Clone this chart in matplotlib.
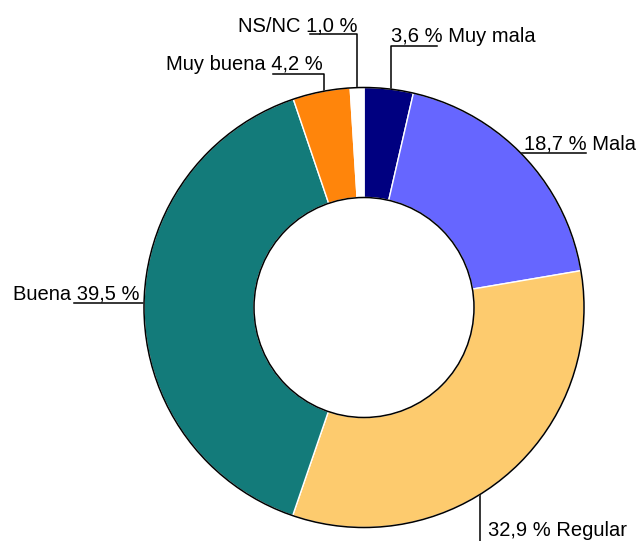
import matplotlib
matplotlib.use("Agg")
import matplotlib.pyplot as plt
from matplotlib.patches import Circle
import numpy as np

plt.rcParams['font.family'] = ['Liberation Sans', 'DejaVu Sans']

categories = ["Muy mala", "Mala", "Regular", "Buena", "Muy buena", "NS/NC"]
values = [3.6, 18.7, 32.9, 39.5, 4.2, 1.0]
value_labels = ["3,6 %", "18,7 %", "32,9 %", "39,5 %", "4,2 %", "1,0 %"]
colors = ["#000080", "#6666FF", "#FDCB6E", "#137B7A", "#FF850B", "#FFFFFF"]

W, H = 640, 541
fig = plt.figure(figsize=(W / 100, H / 100), dpi=100)
ax = fig.add_axes([0, 0, 1, 1])
ax.set_xlim(0, W)
ax.set_ylim(H, 0)
ax.set_aspect('equal')
ax.axis('off')

cx, cy = 364, 307.5
R, r = 220, 110

# pie drawn in a y-up helper axes over the same area
ax2 = fig.add_axes([0, 0, 1, 1])
ax2.set_xlim(0, W)
ax2.set_ylim(0, H)
ax2.set_aspect('equal')
ax2.axis('off')
ax2.pie(values, colors=colors, startangle=90, counterclock=False,
        center=(cx, H - cy), radius=R,
        wedgeprops=dict(width=R - r, edgecolor='white', linewidth=1.0))
ax2.set_xlim(0, W)
ax2.set_ylim(0, H)
ax2.add_patch(Circle((cx, H - cy), R, fill=False, edgecolor='black', lw=1.1, zorder=5))
ax2.add_patch(Circle((cx, H - cy), r, fill=False, edgecolor='black', lw=1.1, zorder=5))

fs = 14.5
lw = 1.1

def ring_y_top(x):
    return cy - np.sqrt(R**2 - (x - cx)**2)

def ring_y_bot(x):
    return cy + np.sqrt(R**2 - (x - cx)**2)

# NS/NC
x0 = 357
ax.plot([310, x0, x0], [34, 34, ring_y_top(x0)], color='black', lw=lw)
ax.text(x0 + 1, 31, f"{categories[5]} {value_labels[5]}", ha='right', va='baseline', fontsize=fs)
# Muy mala
x0 = 391
ax.plot([437, x0, x0], [46, 46, ring_y_top(x0)], color='black', lw=lw)
ax.text(x0, 42, f"{value_labels[0]} {categories[0]}", ha='left', va='baseline', fontsize=fs)
# Muy buena
x0 = 324
ax.plot([273, x0, x0], [74, 74, ring_y_top(x0)], color='black', lw=lw)
ax.text(x0 - 1, 70, f"{categories[4]} {value_labels[4]}", ha='right', va='baseline', fontsize=fs)
# Mala
y0 = 153
xr = cx + np.sqrt(R**2 - (y0 - cy)**2)
ax.plot([xr, 586], [y0, y0], color='black', lw=lw)
ax.text(xr + 3, y0 - 4, f"{value_labels[1]} {categories[1]}", ha='left', va='baseline', fontsize=fs)
# Buena
y0 = 303
xl = cx - np.sqrt(R**2 - (y0 - cy)**2)
ax.plot([74, xl], [y0, y0], color='black', lw=lw)
ax.text(xl - 5, y0 - 4, f"{categories[3]} {value_labels[3]}", ha='right', va='baseline', fontsize=fs)
# Regular
x0 = 480
ax.plot([x0, x0], [ring_y_bot(x0), H], color='black', lw=lw)
ax.text(x0 + 8, 536, f"{value_labels[2]} {categories[2]}", ha='left', va='baseline', fontsize=fs)

fig.savefig("out.png", dpi=100, facecolor='white')
